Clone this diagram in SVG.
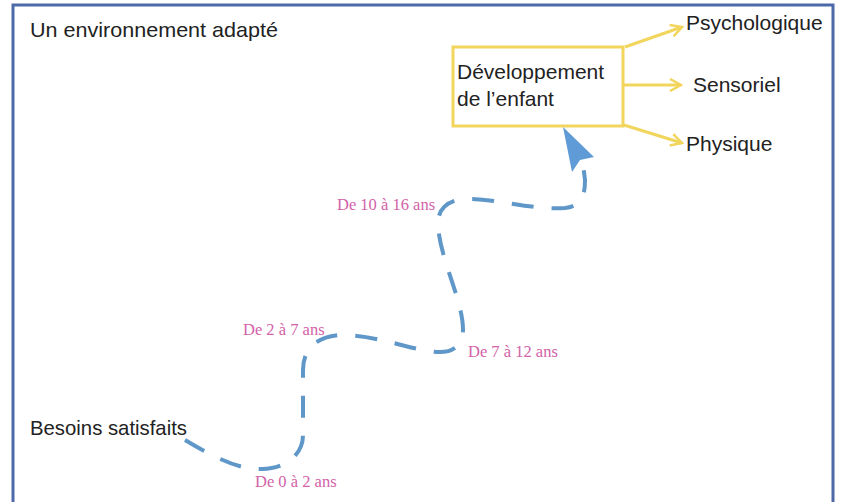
<svg xmlns="http://www.w3.org/2000/svg" width="843" height="502" viewBox="0 0 843 502">
<defs>
<style>
.t{font-family:"Liberation Sans",Arial,sans-serif;font-size:21px;fill:#222}
.p{font-family:"Liberation Serif","Times New Roman",serif;font-size:16.5px;fill:#d262a8}
.y{fill:none;stroke:#f1d55c;stroke-width:3}
</style>
<marker id="ya" viewBox="0 0 14 14" refX="12" refY="7" markerWidth="14" markerHeight="14" markerUnits="userSpaceOnUse" orient="auto">
<path d="M1,1 L12,7 L1,13" fill="none" stroke="#f1d55c" stroke-width="2.5"/>
</marker>
</defs>
<rect width="843" height="502" fill="#fff"/>
<rect id="frame" x="13" y="5" width="820" height="530" fill="none" stroke="#4d6aa8" stroke-width="3"/>
<g id="title"><text class="t" x="30" y="37" textLength="248" lengthAdjust="spacingAndGlyphs">Un environnement adapté</text></g>
<g id="start"><text class="t" x="30" y="435" textLength="157" lengthAdjust="spacingAndGlyphs">Besoins satisfaits</text></g>
<g id="dev">
<rect class="y" x="453" y="47" width="170" height="79"/>
<text class="t" x="457" y="79">Développement</text>
<text class="t" x="457" y="106">de l’enfant</text>
</g>
<g id="psy"><text class="t" x="686" y="30">Psychologique</text></g>
<g id="sens"><text class="t" x="693" y="92">Sensoriel</text></g>
<g id="phys"><text class="t" x="686" y="151">Physique</text></g>
<g id="ages">
<text class="p" x="255" y="487">De 0 à 2 ans</text>
<text class="p" x="243" y="335">De 2 à 7 ans</text>
<text class="p" x="468" y="357">De 7 à 12 ans</text>
<text class="p" x="337" y="210">De 10 à 16 ans</text>
</g>
<g id="connectors">
<line class="y" x1="625" y1="47" x2="682" y2="27" marker-end="url(#ya)"/>
<line class="y" x1="624" y1="85" x2="681" y2="85" marker-end="url(#ya)"/>
<line class="y" x1="624" y1="125" x2="682" y2="143" marker-end="url(#ya)"/>
<path d="M185,440 C215,458 240,470 262,469 C285,469 303,455 303,435 L303,370 C303,350 315,337 340,335 C380,335 415,352 440,352 C455,352 463,343 463,330 C463,300 440,260 438,225 C437,208 450,199 467,199 C500,199 530,210 565,208 C582,206 585,195 585,180 L583,164" fill="none" stroke="#5f97c9" stroke-width="4" stroke-dasharray="22 18"/>
<polygon points="563,127 594,157 580,160 572,172" fill="#5f9bd6"/>
</g>
</svg>
